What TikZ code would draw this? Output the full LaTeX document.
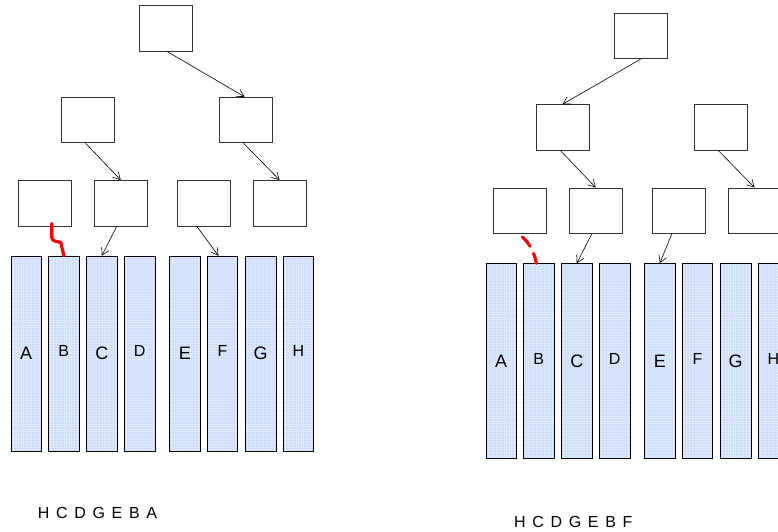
\documentclass[tikz,border=0pt]{standalone}
\usepackage{fontspec}
\setmainfont{Liberation Sans}
\newfontfamily\seqfont[WordSpace=1.5]{Liberation Sans}
\usetikzlibrary{arrows.meta}
\definecolor{colblue}{RGB}{204,219,250}
\definecolor{gridblue}{RGB}{222,232,252}
\definecolor{boxgray}{RGB}{50,50,50}
\tikzset{
 treebox/.style={draw=boxgray, line width=0.9pt, fill=white, minimum width=53pt, minimum height=45.5pt, inner sep=0pt},
 colbox/.style={draw=black, line width=0.9pt, fill=colblue, minimum width=30.5pt, minimum height=195pt, inner sep=0pt,
   path picture={\draw[gridblue, line width=0.45pt] (path picture bounding box.south west) grid[step=2.6pt] (path picture bounding box.north east);}},
 biglbl/.style={font=\fontsize{18}{18}\selectfont, inner sep=0pt},
 smalllbl/.style={font=\fontsize{16}{16}\selectfont, inner sep=0pt},
 arr/.style={-{Straight Barb[length=7pt,width=8pt]}, line width=0.6pt},
 squig/.style={red, line width=3.2pt, line cap=round, line join=round},
 seq/.style={font=\seqfont\fontsize{16}{16}\selectfont, inner sep=0pt}
}
\newcommand\mytree[1]{%
 \node[treebox] (#1r) at (165.5,28.5) {};
 \node[treebox] (#1a) at (87.5,120) {};
 \node[treebox] (#1b) at (245.5,120) {};
 \node[treebox] (#1p) at (44.8,203.2) {};
 \node[treebox] (#1q) at (120.7,203.2) {};
 \node[treebox] (#1s) at (203.8,203.2) {};
 \node[treebox] (#1t) at (279.5,203.2) {};
 \foreach \n/\x/\s/\dy in {A/26.2/biglbl/0, B/63.8/smalllbl/2.7, C/101.8/biglbl/0, D/139.7/smalllbl/2.7,
                           E/184.8/biglbl/0, F/222.5/smalllbl/2.7, G/260.7/biglbl/0, H/298.5/smalllbl/2.7} {
   \node[colbox] (#1\n) at (\x,353.7) {};
   \node[\s] (#1\n l) at ([yshift=\dy pt]#1\n.center) {\n};
 }
}
\begin{document}
\begin{tikzpicture}[x=1pt,y=-1pt]
\useasboundingbox (0,0) rectangle (778,531);
\clip (0,0) rectangle (778,531);
% left tree
\mytree{L}
\draw[arr] ([xshift=2pt]Lr.south) -- ([xshift=-1pt]Lb.north);
\draw[arr] ([xshift=-2pt]La.south) -- (Lq.north);
\draw[arr] ([xshift=-2pt]Lb.south) -- (Lt.north);
\draw[arr] ([xshift=-4pt]Lq.south) -- (LC.north);
\draw[arr] ([xshift=-7pt]Ls.south) -- ([xshift=-4pt]LF.north);
\draw[squig] ([xshift=7pt,yshift=3pt]Lp.south) -- ++(0,14) .. controls +(0,4) and +(-4,-1) .. ++(9,5) -- (LB.north);
\node[seq] (Ltxt) at (97.5,512.7) {H C D G E B A};
% right tree
\begin{scope}[shift={(475,7.5)}]
\mytree{R}
\end{scope}
\draw[arr] (Rr.south) -- (Ra.north);
\draw[arr] ([xshift=-2pt]Ra.south) -- (Rq.north);
\draw[arr] ([xshift=-2pt]Rb.south) -- (Rt.north);
\draw[arr] ([xshift=-4pt]Rq.south) -- (RC.north);
\draw[arr] ([xshift=-7pt]Rs.south) -- (RE.north);
\draw[squig, dash pattern=on 12pt off 8pt] ([xshift=2.5pt,yshift=-3.2pt]Rp.south) .. controls +(7,5) and +(-1,-8) .. ([xshift=-2.5pt]RB.north);
\node[seq] (Rtxt) at (573.3,521.7) {H C D G E B F};
\end{tikzpicture}
\end{document}
